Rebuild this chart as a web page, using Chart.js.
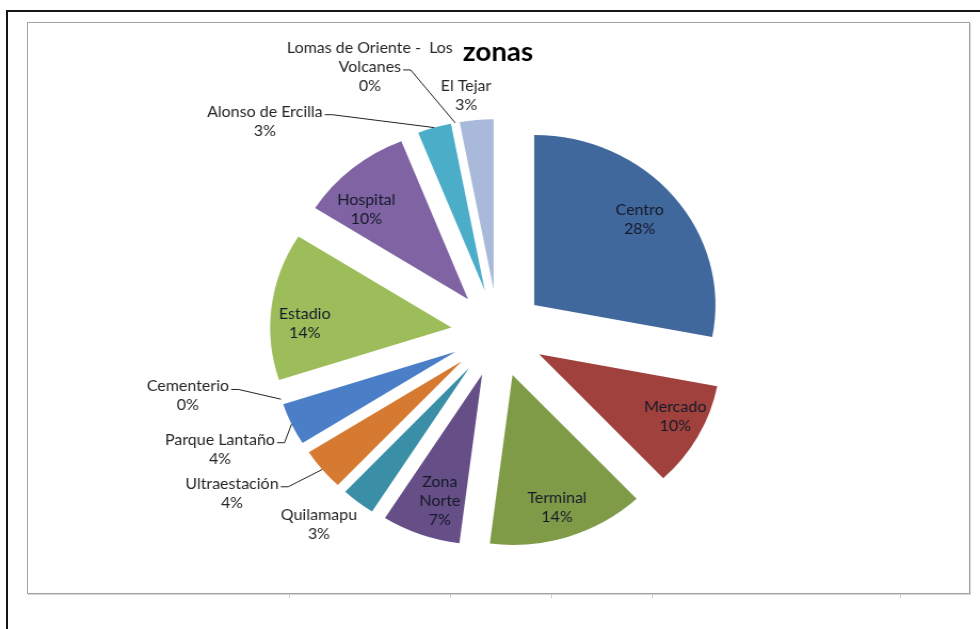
<!DOCTYPE html>
<html>
<head>
<meta charset="utf-8">
<title>zonas</title>
<script src="https://cdn.jsdelivr.net/npm/chart.js@4.4.0/dist/chart.umd.min.js"></script>
<style>
  html, body { margin: 0; padding: 0; background: #fff; }
  body { width: 980px; height: 629px; position: relative; overflow: hidden; }
  .marco-sup { position: absolute; left: 6px; top: 10px; right: 0; height: 2px; background: #151515; }
  .marco-izq { position: absolute; left: 6px; top: 10px; bottom: 0; width: 2px; background: #151515; }
  .caja { position: absolute; left: 27px; top: 22px; width: 941px; height: 570px; border: 1px solid #a3a3a3; box-shadow: 1px 1px 0 #d6d6d6; }
  .marca { position: absolute; top: 594px; width: 1px; height: 4px; background: #cfcfcf; }
  #grafico { position: absolute; left: 0; top: 0; }
</style>
</head>
<body>
<div class="marco-sup"></div>
<div class="marco-izq"></div>
<div class="caja"></div>
<div class="marca" style="left:289px"></div>
<div class="marca" style="left:450px"></div>
<div class="marca" style="left:551px"></div>
<div class="marca" style="left:652px"></div>
<div class="marca" style="left:900px"></div>
<!-- canvas is drawn narrower and stretched to the full width -->
<canvas id="grafico" width="919" height="629" style="width:980px;height:629px"></canvas>
<script>
var zonas = ['Centro', 'Mercado', 'Terminal', 'Zona Norte', 'Quilamapu', 'Ultraestación',
	'Parque Lantaño', 'Cementerio', 'Estadio', 'Hospital', 'Alonso de Ercilla',
	'Lomas de Oriente -  Los Volcanes', 'El Tejar'];
var porcentajes = [28, 10, 14, 7, 3, 4, 4, 0, 14, 10, 3, 0, 3];
var colores = ['#41689c', '#a0413d', '#809b48', '#664e86', '#3a8ea6', '#d67a32',
	'#4a7ec7', '#c9504e', '#9dbd5a', '#8063a3', '#4badc8', '#f79646', '#a8b9d9'];

// label layout: 'in' sits inside the slice (fraction of radius, degrees off the slice middle),
// 'out' sits outside (degrees clockwise from the top, distance in radii), guia = leader line
var etiquetas = [
	{pos: 'in', r: 0.77, giro: -1.3},
	{pos: 'in', r: 0.835, giro: -2.9},
	{pos: 'in', r: 0.82, giro: 0.6},
	{pos: 'in', r: 0.78, giro: -2.4, ancho: 42},
	{pos: 'out', ang: 221.2, r: 1.5},
	{pos: 'out', ang: 237.3, r: 1.744, guia: true},
	{pos: 'out', ang: 246, r: 1.679, guia: true},
	{pos: 'out', ang: 257.8, r: 1.75, guia: true},
	{pos: 'in', r: 0.81, giro: -5.7},
	{pos: 'in', r: 0.77, giro: -7.2},
	{pos: 'out', ang: 314.1, r: 1.791, guia: true},
	{pos: 'out', ang: 335.7, r: 1.718, guia: true, ancho: 175},
	{pos: 'out', ang: 352.8, r: 1.406}
];

var EXPLOSION = 44;
var ALTO_LINEA = 19;

function partir(ctx, texto, ancho) {
	var palabras = texto.split(' ');
	var lineas = [];
	var actual = palabras[0];
	for (var i = 1; i < palabras.length; i++) {
		var prueba = actual + ' ' + palabras[i];
		if (ctx.measureText(prueba).width > ancho) {
			lineas.push(actual);
			actual = palabras[i];
		} else {
			actual = prueba;
		}
	}
	lineas.push(actual);
	return lineas;
}

// every slice pulled out from the centre by the same distance
var explotar = {
	id: 'explotar',
	beforeDatasetDraw: function(chart, args) {
		var ctx = chart.ctx;
		args.meta.data.forEach(function(arc) {
			var mid = (arc.startAngle + arc.endAngle) / 2;
			ctx.save();
			ctx.translate(Math.cos(mid) * EXPLOSION, Math.sin(mid) * EXPLOSION);
			arc.draw(ctx);
			ctx.restore();
		});
		return false;
	}
};

var rotulos = {
	id: 'rotulos',
	afterDatasetsDraw: function(chart) {
		var ctx = chart.ctx;
		var arcs = chart.getDatasetMeta(0).data;
		var total = porcentajes.reduce(function(a, b) { return a + b; }, 0);
		ctx.save();
		ctx.font = '15px Lato';
		ctx.textAlign = 'center';
		ctx.textBaseline = 'middle';
		ctx.lineWidth = 1;
		ctx.strokeStyle = '#222';
		arcs.forEach(function(arc, i) {
			var e = etiquetas[i];
			var mid = (arc.startAngle + arc.endAngle) / 2;
			var cx = arc.x + Math.cos(mid) * EXPLOSION;
			var cy = arc.y + Math.sin(mid) * EXPLOSION;
			var lineas = partir(ctx, zonas[i], e.ancho || 999);
			lineas.push(Math.round(porcentajes[i] / total * 100) + '%');
			var px, py, a;
			if (e.pos === 'in') {
				a = mid + e.giro * Math.PI / 180;
				px = cx + Math.cos(a) * arc.outerRadius * e.r;
				py = cy + Math.sin(a) * arc.outerRadius * e.r;
				ctx.fillStyle = '#141a2a';
			} else {
				a = (e.ang - 90) * Math.PI / 180;
				px = arc.x + Math.cos(a) * arc.outerRadius * e.r;
				py = arc.y + Math.sin(a) * arc.outerRadius * e.r;
				ctx.fillStyle = '#262626';
			}
			var arriba = py - (lineas.length - 1) * ALTO_LINEA / 2;
			lineas.forEach(function(t, k) {
				ctx.fillText(t, px, arriba + k * ALTO_LINEA);
			});
			if (e.guia) {
				var k = lineas.length - 2;
				var w = ctx.measureText(lineas[k]).width;
				var x0 = px + w / 2 + 2;
				var y0 = arriba + k * ALTO_LINEA + 3;
				ctx.beginPath();
				ctx.moveTo(x0, y0);
				ctx.lineTo(x0 + 7, y0);
				ctx.lineTo(cx + Math.cos(mid) * arc.outerRadius, cy + Math.sin(mid) * arc.outerRadius);
				ctx.stroke();
			}
		});
		ctx.restore();
	}
};

new Chart(document.getElementById('grafico'), {
	type: 'pie',
	data: {
		labels: zonas,
		datasets: [{
			data: porcentajes,
			backgroundColor: colores,
			borderWidth: 0,
			radius: 170
		}]
	},
	options: {
		responsive: false,
		devicePixelRatio: 1,
		animation: false,
		layout: { padding: { left: 15, right: 0, top: 0, bottom: 31 } },
		plugins: {
			legend: { display: false },
			tooltip: { enabled: false },
			title: {
				display: true,
				text: 'zonas',
				color: '#000',
				font: { family: 'Lato', size: 26, weight: 'bold', lineHeight: 1.2 },
				padding: { top: 37, bottom: 0 }
			}
		}
	},
	plugins: [explotar, rotulos]
});
</script>
</body>
</html>
